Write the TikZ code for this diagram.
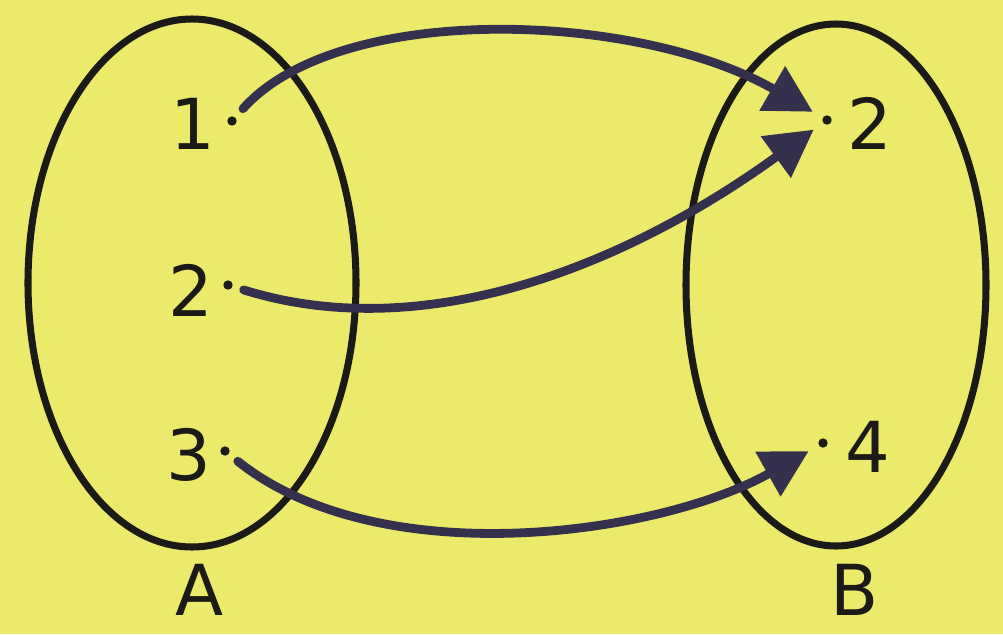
\documentclass[tikz,border=0pt]{standalone}
\usepackage{fontspec}
\setmainfont{DejaVu Sans}
\usetikzlibrary{arrows.meta}
\definecolor{bg}{RGB}{236,234,106}
\definecolor{ink}{RGB}{28,26,22}
\definecolor{arr}{RGB}{52,48,78}
\begin{document}
\begin{tikzpicture}[x=0.03cm,y=-0.03cm,
  setline/.style={draw=ink,line width=6pt},
  pt/.style={circle,fill=ink,inner sep=0pt,minimum size=8pt,outer sep=10pt},
  lbl/.style={inner sep=0pt,text=ink,font=\fontsize{60}{66}\selectfont},
  conn/.style={draw=arr,line width=7.5pt,-{Triangle[length=40pt,width=42pt]},line cap=round}]
\fill[bg] (0,0) rectangle (1003,634);
\useasboundingbox (0,0) rectangle (1003,634);
% sets
\draw[setline] (192,283) ellipse [x radius=164, y radius=264];
\draw[setline] (836,285) ellipse [x radius=150, y radius=261];
% points
\node[pt] (a1) at (232,121) {};
\node[pt] (a2) at (228,285) {};
\node[pt] (a3) at (225,451) {};
\node[pt] (b2) at (827,120) {};
\node[pt] (b4) at (823,443) {};
% labels
\node[lbl] (la1) at (193,124) {1};
\node[lbl] (la2) at (191,290) {2};
\node[lbl] (la3) at (189,455) {3};
\node[lbl] (lb2) at (870,123) {2};
\node[lbl] (lb4) at (868,447) {4};
\node[lbl] (lA) at (200,590) {A};
\node[lbl] (lB) at (855,590) {B};
% connectors
\draw[conn] (a1) .. controls (340,0) and (640,12) .. (b2);
\draw[conn] (a2) .. controls (420,345) and (620,270) .. (b2);
\draw[conn] (a3) .. controls (380,575) and (660,535) .. (b4);
\end{tikzpicture}
\end{document}
